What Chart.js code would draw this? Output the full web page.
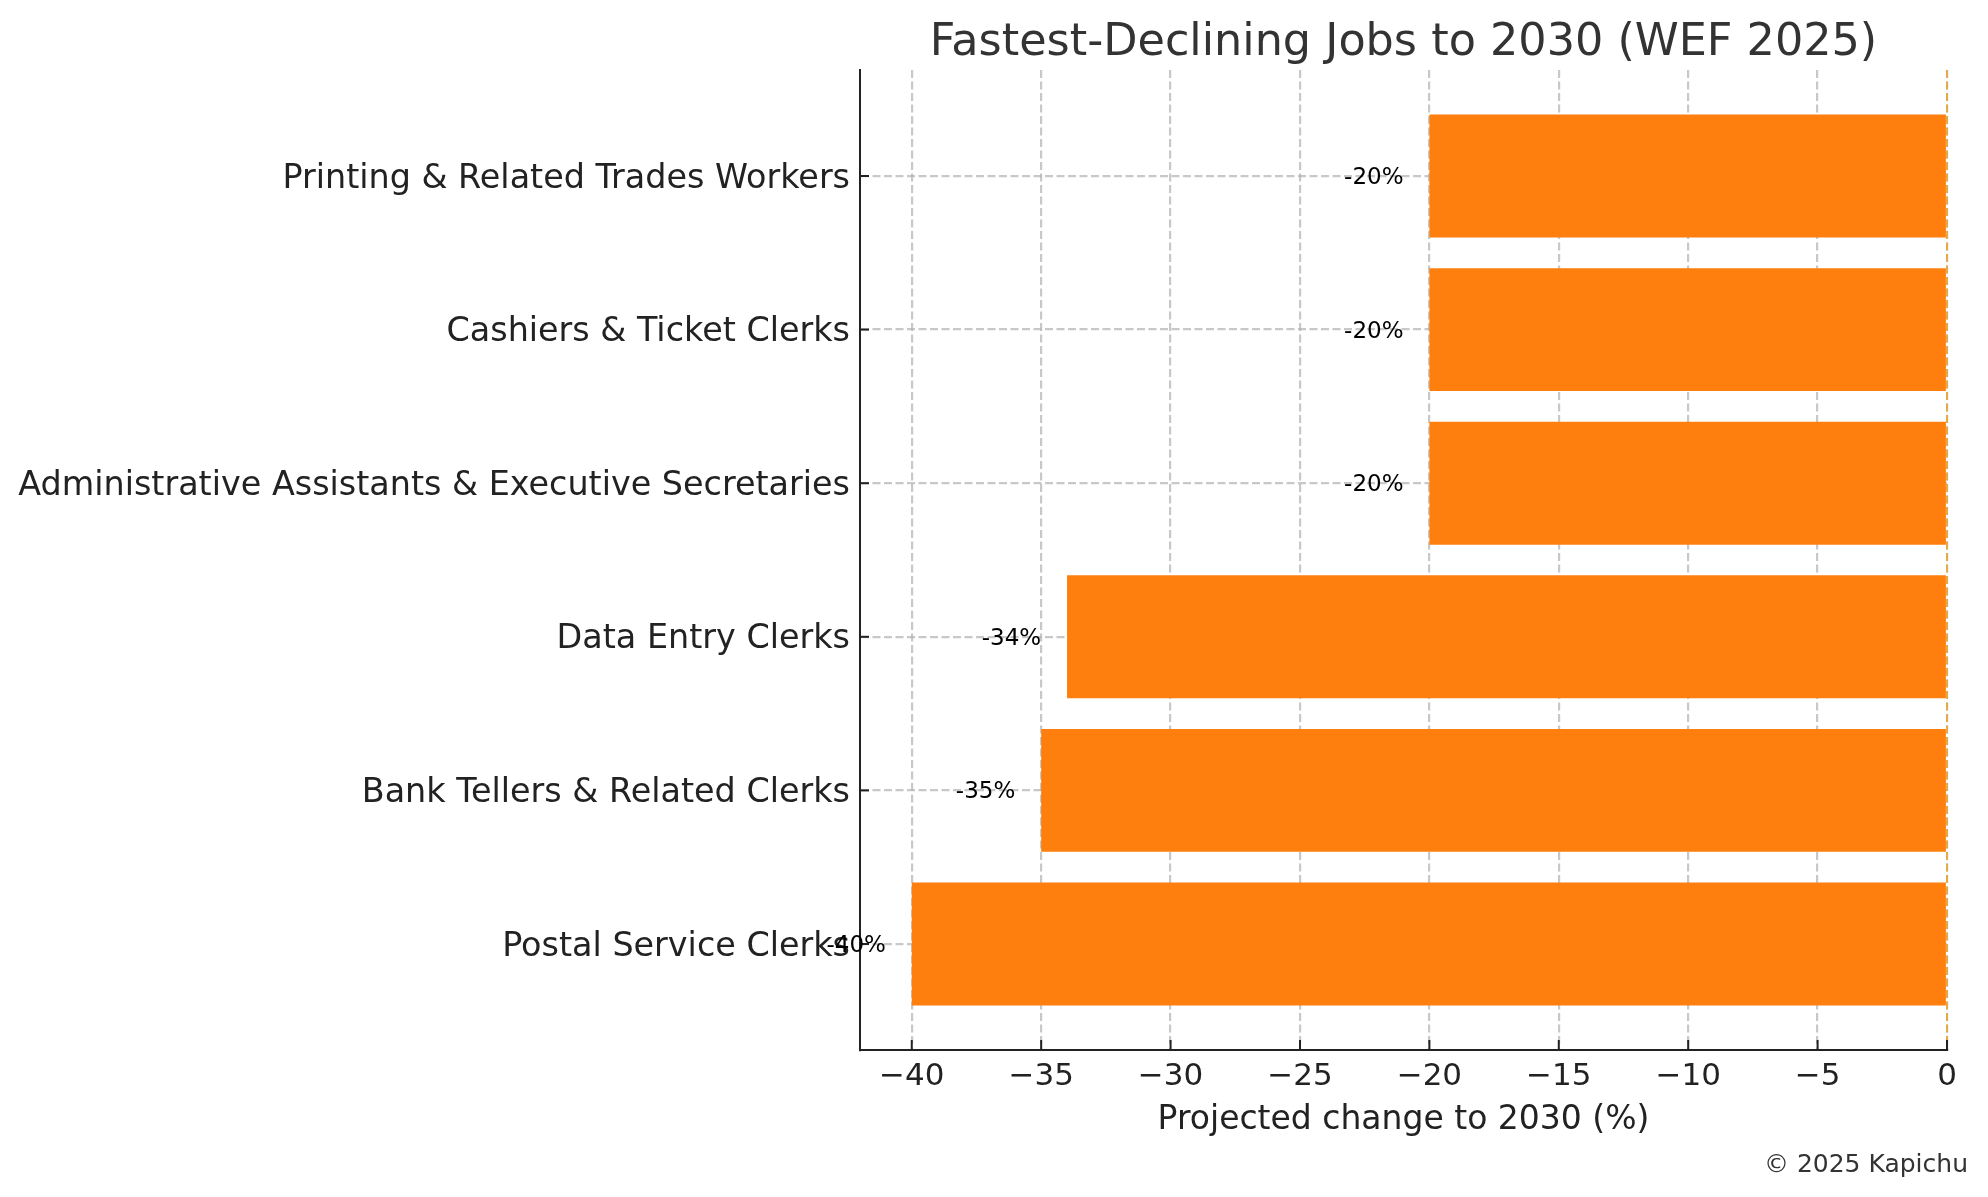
<!DOCTYPE html>
<html>
<head>
<meta charset="utf-8">
<script src="https://cdn.jsdelivr.net/npm/chart.js@4"></script>
<style>
  html, body { margin: 0; padding: 0; background: #ffffff; }
  #wrap { width: 1988px; height: 1197px; position: relative; }
</style>
</head>
<body>
<div id="wrap"><canvas id="c"></canvas></div>
<script>
// ---- data ----
const categories = [
  "Postal Service Clerks",
  "Bank Tellers & Related Clerks",
  "Data Entry Clerks",
  "Administrative Assistants & Executive Secretaries",
  "Cashiers & Ticket Clerks",
  "Printing & Related Trades Workers"
];
const changes = [-40, -35, -34, -20, -20, -20];
const xTicks = [-40, -35, -30, -25, -20, -15, -10, -5, 0];
const titleText = "Fastest-Declining Jobs to 2030 (WEF 2025)";
const xAxisTitle = "Projected change to 2030 (%)";
const creditText = "\u00A9 2025 Kapichu";

const FONT = "'DejaVu Sans', 'Liberation Sans', sans-serif";
const points = changes.map((v, i) => ({ x: v, y: i }));

const overlay = {
  id: 'overlay',
  afterDraw(chart) {
    const { ctx, chartArea } = chart;
    const xs = chart.scales.x, ys = chart.scales.y;
    ctx.save();
    // zero reference line
    ctx.strokeStyle = 'rgba(240,160,20,0.9)';
    ctx.lineWidth = 1.6;
    ctx.setLineDash([8, 3.5]);
    const x0 = xs.getPixelForValue(0);
    ctx.beginPath();
    ctx.moveTo(x0, chartArea.top);
    ctx.lineTo(x0, chartArea.bottom);
    ctx.stroke();
    ctx.setLineDash([]);
    // inward tick marks
    ctx.strokeStyle = '#222';
    ctx.lineWidth = 2;
    xTicks.forEach(v => {
      const px = xs.getPixelForValue(v);
      ctx.beginPath();
      ctx.moveTo(px, chartArea.bottom);
      ctx.lineTo(px, chartArea.bottom - 10);
      ctx.stroke();
    });
    categories.forEach((c, i) => {
      const py = ys.getPixelForValue(i);
      ctx.beginPath();
      ctx.moveTo(chartArea.left, py);
      ctx.lineTo(chartArea.left + 9, py);
      ctx.stroke();
    });
    // value labels
    ctx.fillStyle = '#000';
    ctx.font = "23px " + FONT;
    ctx.textAlign = 'right';
    ctx.textBaseline = 'middle';
    changes.forEach((v, i) => {
      ctx.fillText(v + '%', xs.getPixelForValue(v - 1), ys.getPixelForValue(i) + 2);
    });
    // title
    ctx.fillStyle = '#333';
    ctx.font = "44.5px " + FONT;
    ctx.textAlign = 'center';
    ctx.fillText(titleText, (chartArea.left + chartArea.right) / 2, 43);
    // credit
    ctx.font = "25px " + FONT;
    ctx.textAlign = 'right';
    ctx.fillText(creditText, 1968, 1165);
    ctx.restore();
  }
};

new Chart(document.getElementById('c'), {
  type: 'bar',
  data: {
    datasets: [{
      data: points,
      backgroundColor: '#ff7f0e',
      borderWidth: 0,
      categoryPercentage: 1.0,
      barPercentage: 0.8
    }]
  },
  options: {
    indexAxis: 'y',
    responsive: true,
    maintainAspectRatio: false,
    animation: false,
    devicePixelRatio: 1,
    layout: { padding: { left: 0, right: 41, top: 70, bottom: 37 } },
    plugins: { legend: { display: false }, tooltip: { enabled: false }, title: { display: false } },
    scales: {
      x: {
        type: 'linear',
        min: -42,
        max: 0,
        z: 1,
        afterBuildTicks: axis => { axis.ticks = xTicks.map(v => ({ value: v })); },
        afterFit: axis => { axis.height = 110; axis.paddingLeft = 0; axis.paddingRight = 0; },
        ticks: {
          font: { family: FONT, size: 31 },
          color: '#222',
          padding: 8.5,
          maxRotation: 0,
          autoSkip: false,
          callback: v => (v < 0 ? '\u2212' + Math.abs(v) : String(v))
        },
        grid: {
          color: 'rgba(176,176,176,0.7)',
          lineWidth: 2.2,
          drawTicks: false
        },
        border: { display: true, color: '#222', width: 2, dash: [8, 3.5] },
        title: {
          display: true,
          text: xAxisTitle,
          font: { family: FONT, size: 33 },
          color: '#222',
          padding: { top: 0, bottom: 19.5 }
        }
      },
      y: {
        type: 'linear',
        min: -0.69,
        max: 5.69,
        offset: false,
        z: 1,
        afterBuildTicks: axis => { axis.ticks = categories.map((c, i) => ({ value: i })); },
        afterFit: axis => { axis.width = 860; axis.paddingTop = 0; axis.paddingBottom = 0; },
        ticks: {
          font: { family: FONT, size: 33.4 },
          color: '#222',
          padding: 10,
          labelOffset: 3,
          autoSkip: false,
          callback: v => categories[v] !== undefined ? categories[v] : ''
        },
        grid: {
          color: 'rgba(176,176,176,0.7)',
          lineWidth: 2.2,
          drawTicks: false,
          offset: false
        },
        border: { display: true, color: '#222', width: 2, dash: [8, 3.5] }
      }
    }
  },
  plugins: [overlay]
});
</script>
</body>
</html>
